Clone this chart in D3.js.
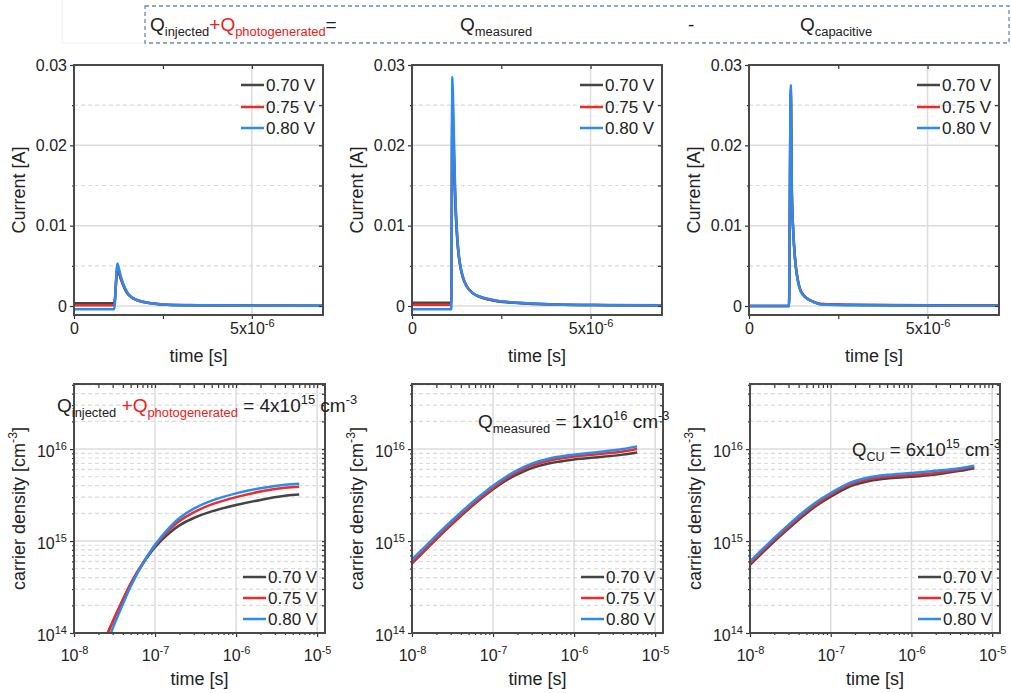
<!DOCTYPE html>
<html>
<head>
<meta charset="utf-8">
<script src="https://cdn.jsdelivr.net/npm/d3@7"></script>
<style>
  body { margin: 0; background: #fff; }
  svg { display: block; font-family: "Liberation Sans", Arial, sans-serif; }
</style>
</head>
<body>
<div id="chart"></div>
<script>
// ---------- data ----------
const voltages = ["0.70 V", "0.75 V", "0.80 V"];
const colors = ["#454545", "#ee2a2a", "#2a8bf2"];

// top row: current transients [s] / [A]
const tInj = [0, 1.13e-6, 1.22e-6, 1.27e-6, 1.33e-6, 1.38e-6, 1.45e-6, 1.53e-6, 1.61e-6, 1.75e-6, 1.94e-6, 2.25e-6, 2.6e-6, 3.5e-6, 5e-6, 7e-6];
const iInj070 = [0.00033, 0.00033, 0.0045, 0.0040, 0.0032, 0.0026, 0.0019, 0.0014, 0.0011, 0.00075, 0.0005, 0.00028, 0.00015, 0.00008, 0.00004, 0.00002];
const iInj075 = [0.0001, 0.0001, 0.0049, 0.0042, 0.0033, 0.0027, 0.0020, 0.00145, 0.00112, 0.00078, 0.00052, 0.0003, 0.00016, 0.0001, 0.00006, 0.00004];
const iInj080 = [-0.0004, -0.0004, 0.0053, 0.0045, 0.0035, 0.0028, 0.0021, 0.0015, 0.00116, 0.0008, 0.00054, 0.0003, 0.00015, 0.00008, 0.00004, 0.00002];

const tMeas = [0, 1.10e-6, 1.13e-6, 1.15e-6, 1.21e-6, 1.27e-6, 1.33e-6, 1.42e-6, 1.54e-6, 1.7e-6, 1.91e-6, 2.38e-6, 3e-6, 4e-6, 5.5e-6, 7e-6];
const iMeas070 = [0.0004, 0.0004, 0.024, 0.022, 0.0130, 0.0080, 0.0055, 0.0036, 0.0024, 0.0016, 0.0011, 0.0006, 0.00035, 0.00018, 0.0001, 0.00005];
const iMeas075 = [0.00015, 0.00015, 0.026, 0.0235, 0.0135, 0.0083, 0.0056, 0.0037, 0.0024, 0.0016, 0.00115, 0.00065, 0.0004, 0.0002, 0.00012, 0.0001];
const iMeas080 = [-0.0004, -0.0004, 0.0285, 0.0255, 0.0141, 0.0085, 0.0057, 0.0037, 0.0024, 0.0016, 0.00116, 0.00066, 0.0004, 0.0002, 0.0001, 0.00005];

const tCap = [0, 1.12e-6, 1.17e-6, 1.20e-6, 1.24e-6, 1.29e-6, 1.36e-6, 1.43e-6, 1.52e-6, 1.61e-6, 1.8e-6, 2.0e-6, 3e-6, 5e-6, 7e-6];
const iCap070 = [0, 0, 0.0265, 0.0142, 0.0093, 0.0059, 0.0034, 0.0021, 0.0014, 0.0010, 0.00055, 0.00025, 0.00012, 0.00006, 0.00004];
const iCap075 = [0, 0, 0.0270, 0.0141, 0.0092, 0.0058, 0.0034, 0.0021, 0.0014, 0.0010, 0.00055, 0.00025, 0.00015, 0.0001, 0.00008];
const iCap080 = [0, 0, 0.0275, 0.0140, 0.0090, 0.0057, 0.0033, 0.0020, 0.0013, 0.00096, 0.0005, 0.0002, 0.0001, 0.00005, 0.00003];

// bottom row: carrier density [s] / [cm^-3]
const tDensInj = [2.6e-8, 3e-8, 4e-8, 5e-8, 7e-8, 1e-7, 1.5e-7, 2e-7, 3e-7, 5e-7, 1e-6, 2e-6, 4e-6, 6e-6];
const nInj070 = [1e14, 1.32e14, 2.28e14, 3.4e14, 5.6e14, 8.6e14, 1.22e15, 1.48e15, 1.78e15, 2.1e15, 2.46e15, 2.8e15, 3.1e15, 3.2e15];
const nInj075 = [1e14, 1.32e14, 2.3e14, 3.45e14, 5.7e14, 8.9e14, 1.32e15, 1.65e15, 2.05e15, 2.5e15, 3.0e15, 3.45e15, 3.8e15, 3.9e15];
const nInj080 = [0.8e14, 1.12e14, 2.05e14, 3.2e14, 5.6e14, 9.1e14, 1.4e15, 1.78e15, 2.25e15, 2.75e15, 3.3e15, 3.75e15, 4.1e15, 4.2e15];

const tDens = [1e-8, 2e-8, 3e-8, 5e-8, 7e-8, 1e-7, 1.5e-7, 2e-7, 3e-7, 5e-7, 1e-6, 2e-6, 4e-6, 6e-6];
const nMeas070 = [5.7e14, 1.05e15, 1.48e15, 2.23e15, 2.86e15, 3.65e15, 4.65e15, 5.3e15, 6.2e15, 7.0e15, 7.7e15, 8.15e15, 8.7e15, 9.2e15];
const nMeas075 = [5.8e14, 1.07e15, 1.51e15, 2.28e15, 2.93e15, 3.77e15, 4.85e15, 5.6e15, 6.6e15, 7.5e15, 8.3e15, 8.8e15, 9.4e15, 1.0e16];
const nMeas080 = [6.3e14, 1.15e15, 1.62e15, 2.44e15, 3.13e15, 4.0e15, 5.1e15, 5.9e15, 6.95e15, 7.9e15, 8.7e15, 9.3e15, 1.0e16, 1.07e16];

const nCU070 = [5.5e14, 9.9e14, 1.37e15, 2.01e15, 2.5e15, 3.04e15, 3.7e15, 4.1e15, 4.5e15, 4.8e15, 5.0e15, 5.3e15, 5.8e15, 6.2e15];
const nCU075 = [5.7e14, 1.03e15, 1.42e15, 2.09e15, 2.6e15, 3.17e15, 3.87e15, 4.3e15, 4.72e15, 5.0e15, 5.22e15, 5.5e15, 6.0e15, 6.4e15];
const nCU080 = [6.0e14, 1.08e15, 1.5e15, 2.2e15, 2.74e15, 3.33e15, 4.05e15, 4.5e15, 4.95e15, 5.25e15, 5.5e15, 5.8e15, 6.2e15, 6.6e15];

// axis settings
const topTimeDomain = [0, 7e-6];
const topCurrentDomain = [-0.00112, 0.03];
const currentTicks = [0, 0.01, 0.02, 0.03];
const currentMinor = [0.005, 0.015, 0.025];
const topTimeTicks = [0, 2.5e-6, 5e-6];
const logTimeDomain = [1e-8, 1.25e-5];
const logDensDomain = [1e14, 5.1e16];
const timeDecades = [1e-8, 1e-7, 1e-6, 1e-5];
const densDecades = [1e14, 1e15, 1e16];

// ---------- layout ----------
const W = 1011, H = 693;
const red = "#ee2020";
const ink = "#222";
const gridCol = "#dcdcdc";

const svg = d3.select("#chart").append("svg").attr("width", W).attr("height", H);

const topPanels = [
  { x0: 74, x1: 323, t: tInj, s: [iInj070, iInj075, iInj080] },
  { x0: 412, x1: 662, t: tMeas, s: [iMeas070, iMeas075, iMeas080] },
  { x0: 749, x1: 999, t: tCap, s: [iCap070, iCap075, iCap080] }
];
const botPanels = [
  { x0: 74, x1: 325, t: tDensInj, s: [nInj070, nInj075, nInj080] },
  { x0: 412, x1: 663, t: tDens, s: [nMeas070, nMeas075, nMeas080] },
  { x0: 750, x1: 1000, t: tDens, s: [nCU070, nCU075, nCU080] }
];
const topY0 = 65, topY1 = 315;
const botY0 = 384, botY1 = 633;

// rich text helper (sub/superscripts)
function richText(parent, x, y, segs, size, anchor) {
  const t = parent.append("text").attr("x", x).attr("y", y)
    .attr("font-size", size).attr("fill", ink)
    .style("white-space", "pre")
    .attr("text-anchor", anchor || "start");
  let cur = 0;
  segs.forEach(s => {
    const off = s.sub ? size * 0.28 : s.sup ? -size * 0.42 : 0;
    t.append("tspan")
      .attr("dy", off - cur)
      .attr("font-size", (s.sub || s.sup) ? size * 0.68 : size)
      .attr("fill", s.color || ink)
      .text(s.text);
    cur = off;
  });
  return t;
}

function legend(g, x1, rows) {
  voltages.forEach((v, i) => {
    g.append("line").attr("x1", x1 - 82).attr("x2", x1 - 59)
      .attr("y1", rows[i]).attr("y2", rows[i])
      .attr("stroke", colors[i]).attr("stroke-width", 2.5);
    g.append("text").attr("x", x1 - 57).attr("y", rows[i] + 6)
      .attr("font-size", 17).attr("fill", ink).text(v);
  });
}

function frame(g, x0, x1, y0, y1) {
  g.append("rect").attr("x", x0).attr("y", y0).attr("width", x1 - x0).attr("height", y1 - y0)
    .attr("fill", "none").attr("stroke", "#4a4a4a").attr("stroke-width", 2);
}

function styleAxis(a) {
  a.select(".domain").remove();
  a.selectAll(".tick line").attr("stroke", "#333").attr("stroke-width", 1.2);
  a.selectAll(".tick text").attr("fill", ink).attr("font-size", 16).attr("font-family", null);
}

// ---------- top row ----------
topPanels.forEach((p, k) => {
  const g = svg.append("g");
  const x = d3.scaleLinear().domain(topTimeDomain).range([p.x0, p.x1]);
  const y = d3.scaleLinear().domain(topCurrentDomain).range([topY1, topY0]);

  // grid
  g.selectAll(".gmaj").data([0, 0.01, 0.02]).join("line")
    .attr("x1", p.x0).attr("x2", p.x1).attr("y1", d => y(d)).attr("y2", d => y(d))
    .attr("stroke", gridCol).attr("stroke-width", 1.5);
  g.selectAll(".gmin").data(currentMinor).join("line")
    .attr("x1", p.x0).attr("x2", p.x1).attr("y1", d => y(d)).attr("y2", d => y(d))
    .attr("stroke", gridCol).attr("stroke-width", 1.2).attr("stroke-dasharray", "4,3");
  g.append("line").attr("x1", x(5e-6)).attr("x2", x(5e-6)).attr("y1", topY0).attr("y2", topY1)
    .attr("stroke", gridCol).attr("stroke-width", 1.5);

  // curves
  const clipId = "clipTop" + k;
  g.append("clipPath").attr("id", clipId).append("rect")
    .attr("x", p.x0).attr("y", topY0).attr("width", p.x1 - p.x0).attr("height", topY1 - topY0);
  const line = d3.line().x(d => x(d[0])).y(d => y(d[1])).curve(d3.curveMonotoneX);
  p.s.forEach((vals, i) => {
    g.append("path").attr("clip-path", `url(#${clipId})`)
      .datum(p.t.map((t, j) => [t, vals[j]]))
      .attr("d", line).attr("fill", "none")
      .attr("stroke", colors[i]).attr("stroke-width", 2.5).attr("stroke-linejoin", "round");
  });

  // axes
  const ax = g.append("g").attr("transform", `translate(0,${topY1})`)
    .call(d3.axisBottom(x).tickValues(topTimeTicks).tickSize(4).tickPadding(3).tickFormat(() => ""));
  styleAxis(ax);
  ax.selectAll(".tick text").each(function(d) {
    const t = d3.select(this).attr("dy", null).attr("y", 19);
    if (d === 0) t.text("0");
    else if (d === 5e-6) {
      t.append("tspan").text("5x10");
      t.append("tspan").attr("dy", -7).attr("font-size", 11).text("-6");
    }
  });
  const ay = g.append("g").attr("transform", `translate(${p.x0},0)`)
    .call(d3.axisLeft(y).tickValues(currentTicks).tickSize(4).tickPadding(3)
      .tickFormat(d => d === 0 ? "0" : d3.format(".2f")(d)));
  styleAxis(ay);
  const ayMin = g.append("g").attr("transform", `translate(${p.x0},0)`)
    .call(d3.axisLeft(y).tickValues(currentMinor).tickSize(2).tickFormat(() => ""));
  styleAxis(ayMin);
  const at = g.append("g").attr("transform", `translate(0,${topY0})`)
    .call(d3.axisTop(x).tickValues(topTimeTicks).tickSize(-4).tickFormat(() => ""));
  styleAxis(at);
  const ar = g.append("g").attr("transform", `translate(${p.x1},0)`)
    .call(d3.axisRight(y).tickValues(currentTicks.concat(currentMinor)).tickSize(-4).tickFormat(() => ""));
  styleAxis(ar);

  frame(g, p.x0, p.x1, topY0, topY1);

  g.append("text").attr("x", (p.x0 + p.x1) / 2).attr("y", 362).attr("text-anchor", "middle")
    .attr("font-size", 18).attr("fill", ink).text("time [s]");
  g.append("text").attr("transform", `translate(${p.x0 - 49},${(topY0 + topY1) / 2}) rotate(-90)`)
    .attr("text-anchor", "middle").attr("font-size", 18).attr("fill", ink).text("Current [A]");

  legend(g, p.x1, [85, 107, 128]);
});

// ---------- bottom row ----------
const minorOf = decs => decs.slice(0, -1).flatMap(d => d3.range(2, 10).map(m => m * d));
const timeMinor = minorOf(timeDecades.concat([1e-4])).filter(v => v < logTimeDomain[1]);
const densMinor = minorOf(densDecades.concat([1e17])).filter(v => v < logDensDomain[1]);

botPanels.forEach((p, k) => {
  const g = svg.append("g");
  const x = d3.scaleLog().domain(logTimeDomain).range([p.x0, p.x1]);
  const y = d3.scaleLog().domain(logDensDomain).range([botY1, botY0]);

  g.selectAll(".gmin").data(densMinor).join("line")
    .attr("x1", p.x0).attr("x2", p.x1).attr("y1", d => y(d)).attr("y2", d => y(d))
    .attr("stroke", gridCol).attr("stroke-width", 1.2).attr("stroke-dasharray", "4,3");
  g.selectAll(".gmaj").data(densDecades.slice(1)).join("line")
    .attr("x1", p.x0).attr("x2", p.x1).attr("y1", d => y(d)).attr("y2", d => y(d))
    .attr("stroke", gridCol).attr("stroke-width", 1.5);
  g.selectAll(".gvx").data(timeDecades.slice(1)).join("line")
    .attr("x1", d => x(d)).attr("x2", d => x(d)).attr("y1", botY0).attr("y2", botY1)
    .attr("stroke", gridCol).attr("stroke-width", 1.5);

  const clipId = "clipBot" + k;
  g.append("clipPath").attr("id", clipId).append("rect")
    .attr("x", p.x0).attr("y", botY0).attr("width", p.x1 - p.x0).attr("height", botY1 - botY0);
  const line = d3.line().x(d => x(d[0])).y(d => y(d[1])).curve(d3.curveCatmullRom.alpha(0.5));
  p.s.forEach((vals, i) => {
    g.append("path").attr("clip-path", `url(#${clipId})`)
      .datum(p.t.map((t, j) => [t, vals[j]]))
      .attr("d", line).attr("fill", "none")
      .attr("stroke", colors[i]).attr("stroke-width", 2.5).attr("stroke-linejoin", "round");
  });

  const expLabel = (sel, baseY) => sel.selectAll(".tick text").each(function(d) {
    const t = d3.select(this).text(null);
    if (baseY !== undefined) t.attr("dy", null).attr("y", baseY);
    else t.attr("dy", "0.45em");
    t.append("tspan").text("10");
    t.append("tspan").attr("dy", -7).attr("font-size", 11).text(Math.round(Math.log10(d)));
  });

  const ax = g.append("g").attr("transform", `translate(0,${botY1})`)
    .call(d3.axisBottom(x).tickValues(timeDecades).tickSize(4).tickPadding(3));
  styleAxis(ax);
  expLabel(ax, 28);
  styleAxis(g.append("g").attr("transform", `translate(0,${botY1})`)
    .call(d3.axisBottom(x).tickValues(timeMinor).tickSize(2).tickFormat(() => "")));
  const ay = g.append("g").attr("transform", `translate(${p.x0},0)`)
    .call(d3.axisLeft(y).tickValues(densDecades).tickSize(4).tickPadding(3));
  styleAxis(ay);
  expLabel(ay);
  styleAxis(g.append("g").attr("transform", `translate(${p.x0},0)`)
    .call(d3.axisLeft(y).tickValues(densMinor).tickSize(2).tickFormat(() => "")));
  styleAxis(g.append("g").attr("transform", `translate(0,${botY0})`)
    .call(d3.axisTop(x).tickValues(timeDecades.concat(timeMinor)).tickSize(-4).tickFormat(() => "")));
  styleAxis(g.append("g").attr("transform", `translate(${p.x1},0)`)
    .call(d3.axisRight(y).tickValues(densDecades.concat(densMinor)).tickSize(-3).tickFormat(() => "")));

  frame(g, p.x0, p.x1, botY0, botY1);

  g.append("text").attr("x", (p.x0 + p.x1) / 2).attr("y", 685).attr("text-anchor", "middle")
    .attr("font-size", 18).attr("fill", ink).text("time [s]");
  richText(g.append("g").attr("transform", `translate(${p.x0 - 49},${(botY0 + botY1) / 2}) rotate(-90)`),
    0, 0, [{ text: "carrier density [cm" }, { text: "-3", sup: true }, { text: "]" }], 18, "middle");

  legend(g, p.x1, [577, 598, 619]);
});

// ---------- annotations ----------
const ann = svg.append("g");
richText(ann, 57, 412, [
  { text: "Q" }, { text: "injected", sub: true }, { text: " " },
  { text: "+Q", color: red }, { text: "photogenerated", sub: true, color: red },
  { text: " = 4x10" }, { text: "15", sup: true }, { text: " cm" }, { text: "-3", sup: true }
], 19);
richText(ann, 478, 428, [
  { text: "Q" }, { text: "measured", sub: true },
  { text: " = 1x10" }, { text: "16", sup: true }, { text: " cm" }, { text: "-3", sup: true }
], 19);
richText(ann, 852, 456, [
  { text: "Q" }, { text: "CU", sub: true },
  { text: " = 6x10" }, { text: "15", sup: true }, { text: " cm" }, { text: "-3", sup: true }
], 18.5);

// ---------- banner ----------
const ban = svg.append("g");
ban.append("path").attr("d", "M62,0 V43 H145").attr("fill", "none").attr("stroke", "#f0f0f0");
ban.append("rect").attr("x", 145).attr("y", 6).attr("width", 864).attr("height", 37)
  .attr("fill", "none").attr("stroke", "#6b8bb0").attr("stroke-width", 1.3).attr("stroke-dasharray", "4,3");
richText(ban, 150, 31, [
  { text: "Q" }, { text: "injected", sub: true },
  { text: "+Q", color: red }, { text: "photogenerated", sub: true, color: red }, { text: "=" }
], 19);
richText(ban, 460, 31, [{ text: "Q" }, { text: "measured", sub: true }], 19);
richText(ban, 688, 31, [{ text: "-" }], 19);
richText(ban, 800, 31, [{ text: "Q" }, { text: "capacitive", sub: true }], 19);
</script>
</body>
</html>
